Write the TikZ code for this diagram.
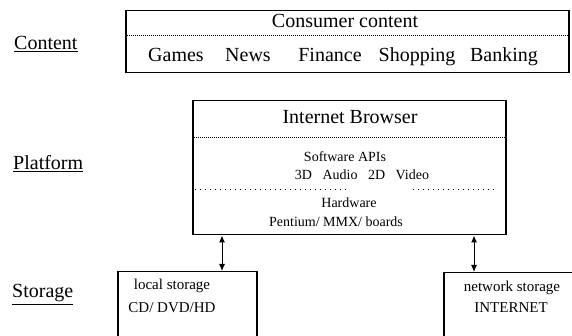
\documentclass[tikz,border=0pt]{standalone}
\usepackage{fontspec}
\setmainfont{Liberation Serif}
\usetikzlibrary{arrows.meta}
\begin{document}
\begin{tikzpicture}[x=1pt,y=-1pt,
  box/.style={draw,line width=1.5pt,inner sep=0pt,anchor=north west},
  layer/.style={font=\fontsize{20}{22}\selectfont,anchor=base west,inner sep=0pt},
  big/.style={font=\fontsize{20}{22}\selectfont,anchor=base,inner sep=0pt},
  small/.style={font=\fontsize{14}{16}\selectfont,anchor=base,inner sep=0pt},
  tiny/.style={font=\fontsize{15}{17}\selectfont,anchor=base,inner sep=0pt},
  sep/.style={line width=0.8pt,dash pattern=on 0.8pt off 1.2pt},
  sparse/.style={line width=0.8pt,dash pattern=on 1pt off 4pt},
  biarrow/.style={line width=1pt,{Latex[length=7pt,width=6pt]}-{Latex[length=7pt,width=6pt]}}]
\useasboundingbox (0,0) rectangle (572,336);
\clip (0,0) rectangle (572,336);

% layer captions
\node[layer] (lcontent) at (14,50) {\underline{Content}};
\node[layer] (lplatform) at (13,170) {\underline{Platform}};
\node[layer] (lstorage) at (12,298) {\underline{Storage}};

% consumer content box
\node[box,minimum width=443pt,minimum height=62pt] (content) at (125,10) {};
\node[big] (cc) at (345,28) {Consumer content};
\draw[sep] (content.west |- 0,35) -- (content.east |- 0,35);
\node[big] (games) at (176,62) {Games};
\node[big] (news) at (248,62) {News};
\node[big] (finance) at (330,62) {Finance};
\node[big] (shopping) at (417,62) {Shopping};
\node[big] (banking) at (504,62) {Banking};

% platform box
\node[box,minimum width=313pt,minimum height=134pt] (platform) at (192,100) {};
\node[big] (browser) at (350,124) {Internet Browser};
\draw[sep] (platform.west |- 0,137) -- (platform.east |- 0,137);
\node[small] (apis) at (345,162) {Software APIs};
\node[small] (media) at (362,180) {3D\enspace\ Audio\enspace\ 2D\enspace\ Video};
\draw[sparse] (platform.west |- 0,189) ++(3,0) -- (348,189);
\draw[sparse] (413,189) -- (495,189);
\node[small] (hw) at (349,208) {Hardware};
\node[small] (pentium) at (336,227) {Pentium/ MMX/ boards};

% storage boxes, running on past the lower and right edges
\node[box,minimum width=139pt,minimum height=90pt] (localst) at (117,271) {};
\node[tiny] (local) at (172,290) {local storage};
\node[tiny] (cd) at (172,312) {CD/ DVD/HD};
\node[box,minimum width=190pt,minimum height=90pt] (netst) at (443,272) {};
\node[tiny] (netw) at (512,291) {network storage};
\node[tiny] (inet) at (511,312) {INTERNET};

% links between platform and storage
\coordinate (xl) at (222,0);
\coordinate (xr) at (474,0);
\draw[biarrow] (platform.south -| xl) -- (localst.north -| xl);
\draw[biarrow] (platform.south -| xr) -- (netst.north -| xr);
\end{tikzpicture}
\end{document}
